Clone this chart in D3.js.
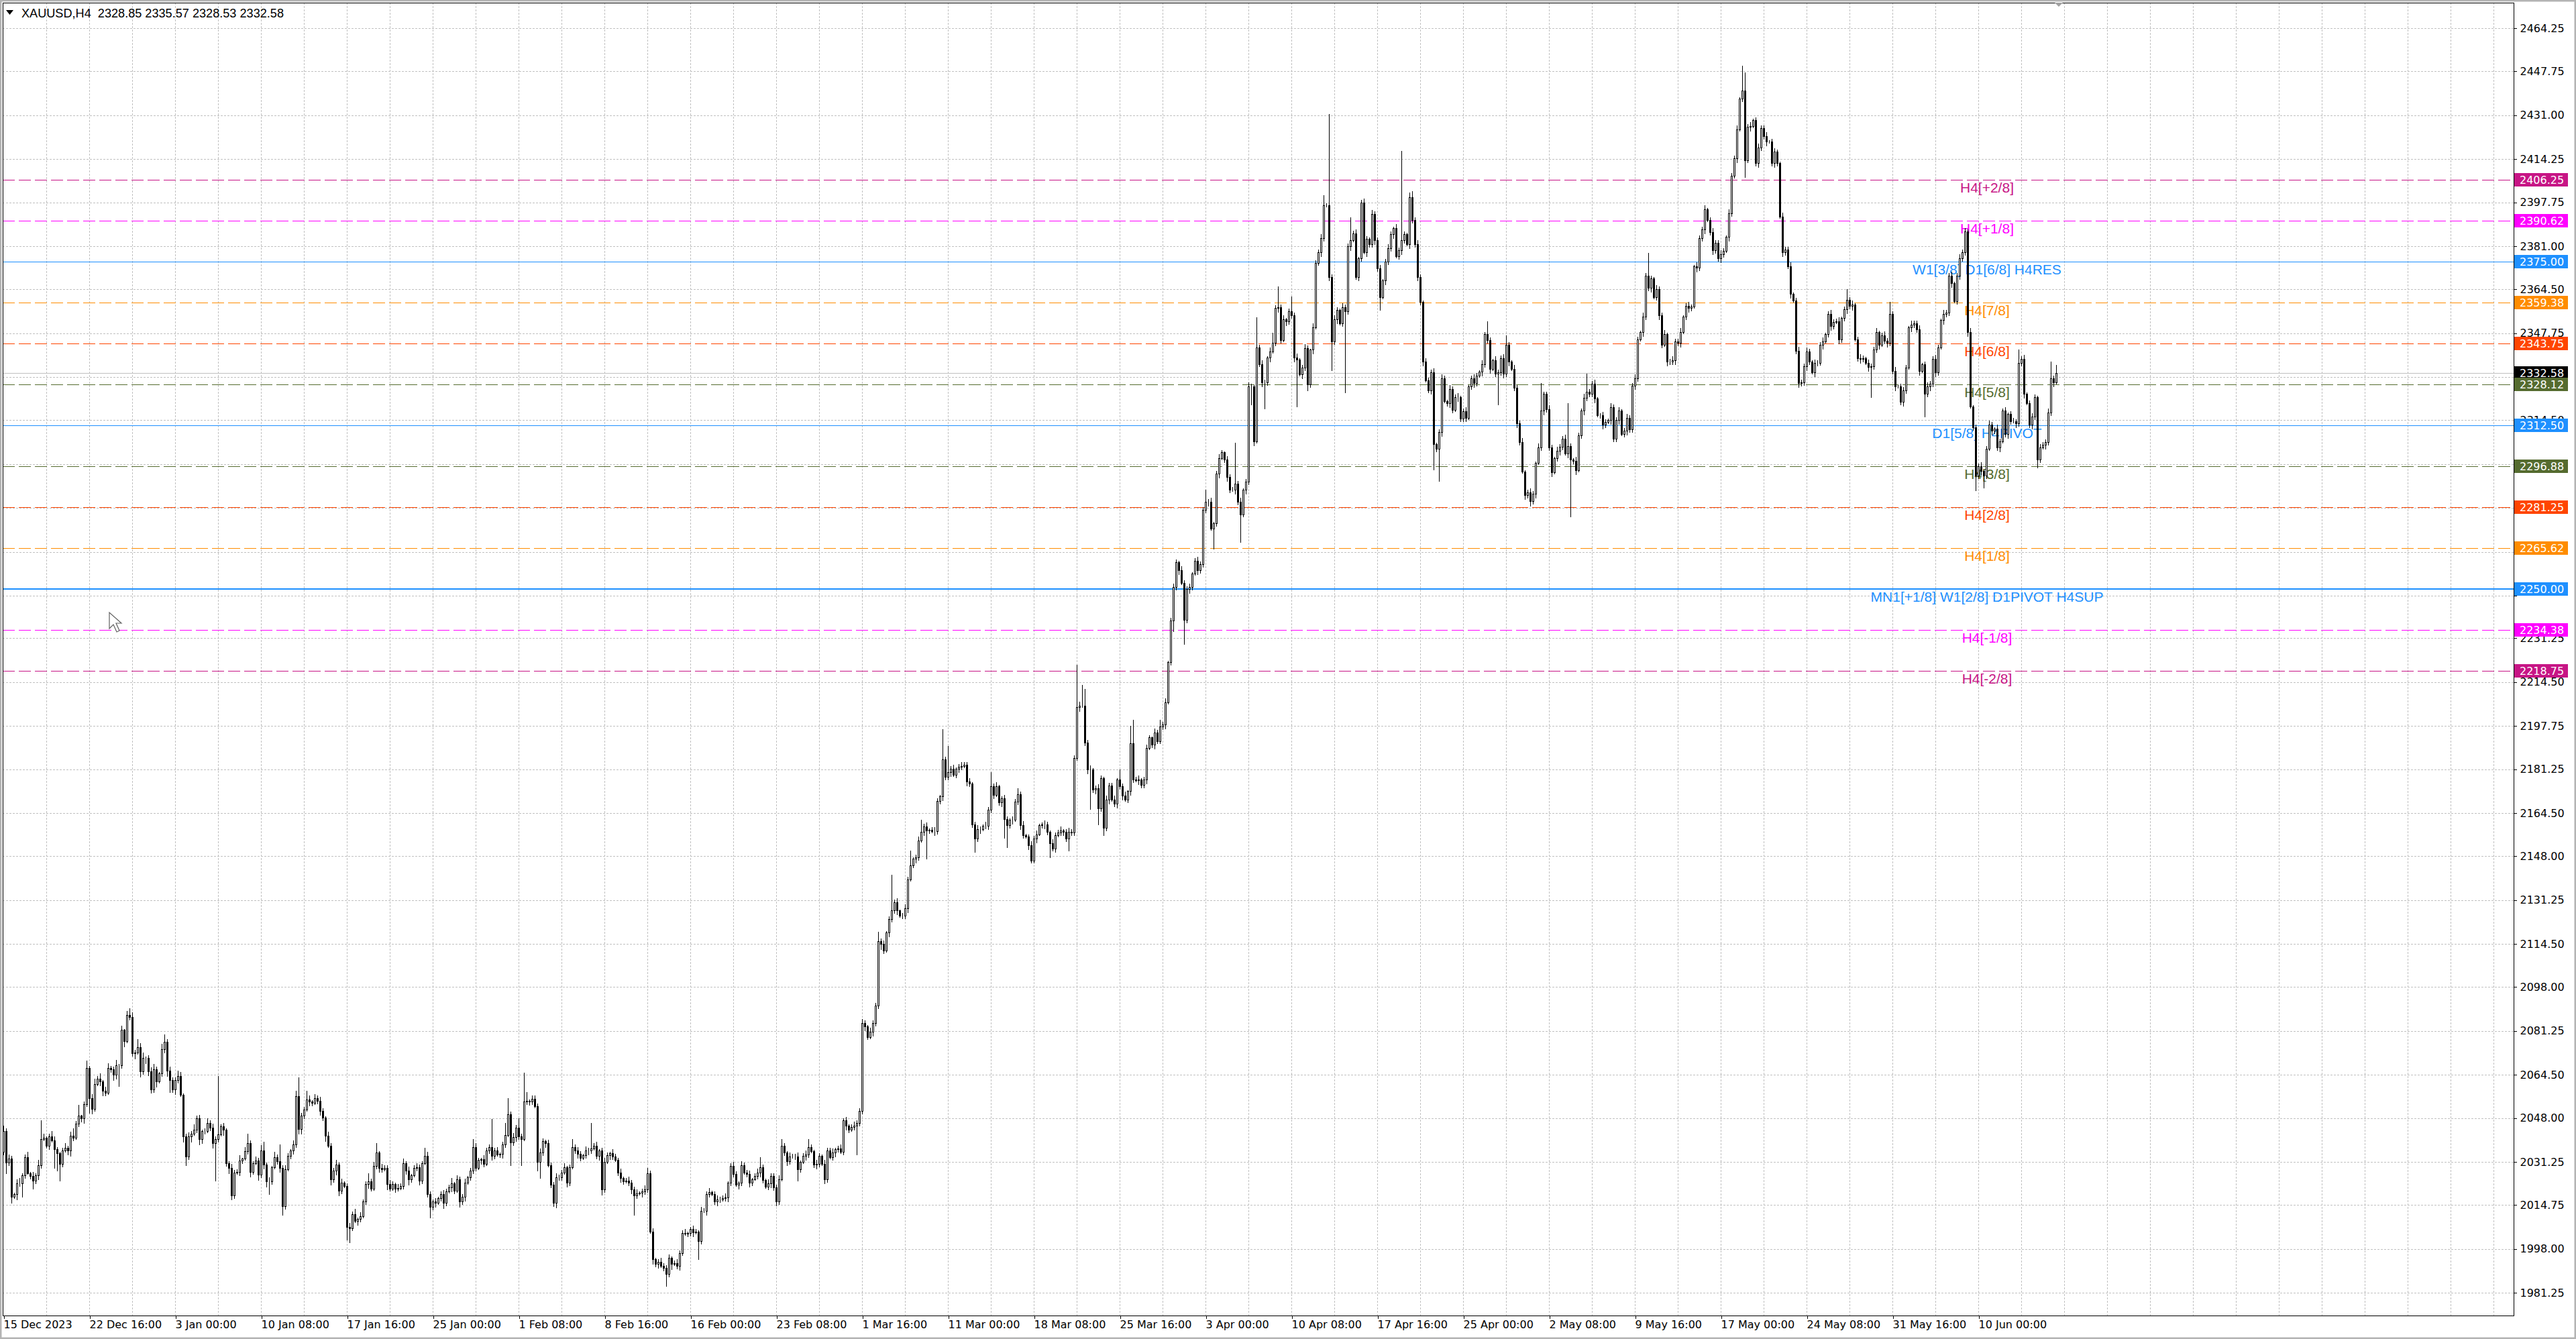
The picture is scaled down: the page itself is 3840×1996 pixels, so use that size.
<!DOCTYPE html>
<html>
<head>
<meta charset="utf-8">
<title>XAUUSD,H4</title>
<style>
html, body { margin: 0; padding: 0; background: #ffffff; }
svg { display: block; }
.axis text { font-family: "DejaVu Sans", Verdana, sans-serif; font-size: 16px; fill: #000; }
.axis path, .axis line { stroke: #000; shape-rendering: crispEdges; }
.grid line { stroke: #c0c0c0; stroke-dasharray: 3,2; shape-rendering: crispEdges; }
.level-text { font-family: "Liberation Sans", Arial, sans-serif; font-size: 21px; text-anchor: middle; }
.price-box text { font-family: "DejaVu Sans", Verdana, sans-serif; font-size: 16px; fill: #fff; }
</style>
</head>
<body>
<svg id="chart" width="3840" height="1996"></svg>
<script src="https://cdn.jsdelivr.net/npm/d3@7/dist/d3.min.js"></script>
<script>
// ---------- data ----------
const symbolTitle = 'XAUUSD,H4';
const lastOHLC = [2328.85, 2335.57, 2328.53, 2332.58];
const firstOpen = 2035;

// close of every H4 bar, 15 Dec 2023 .. 14 Jun 2024 (open = previous close)
const closes = [
  2043,2031,2032.5,2018,2019,2023,2023,2026,2033,2027,2025.8,2024,2026,2030,2040,2040.5,
  2037.5,2041,2039.5,2036,2034.5,2030.5,2035.5,2036.5,2035.5,2041.3,2040.5,2045.8,2048.8,2048,2053.4,2067,
  2055.5,2051.6,2061,2063,2062,2058.5,2057.6,2067,2066.6,2064.5,2068.2,2068.2,2081.7,2077.4,2087.3,2086.5,
  2072.7,2073,2075,2065.8,2071,2071,2065.8,2059,2066.6,2062,2065,2074.4,2077,2066,2062.4,2059,
  2062.4,2064,2056.8,2040.9,2033.2,2040.9,2041.9,2043.5,2047.8,2040,2043,2043,2046,2044.3,2038.5,2040,
  2041.7,2044.7,2043.5,2030.6,2028.9,2018.5,2027.1,2027.5,2031.8,2032.4,2035.3,2038.5,2027.5,2030.6,2031.8,2026.3,
  2035.7,2030.1,2023.7,2023.8,2029.3,2033.1,2031.4,2028.9,2014.2,2028.4,2033.6,2035.7,2037.9,2056.3,2043.9,2049,
  2051.2,2055,2054.2,2053.8,2055.5,2054.6,2050.8,2048.2,2041.3,2037.4,2024.5,2027.9,2030.1,2020.3,2023.3,2022,
  2006.5,2006,2011.2,2008.7,2009.5,2010.4,2016,2022.8,2023.8,2021.1,2029.7,2034.9,2028.9,2028.4,2029,2022.8,
  2021.1,2022.8,2021.1,2021.3,2022,2030.6,2028,2024.5,2026,2028.9,2029.3,2024.1,2030.6,2033.6,2019,2014,
  2016,2015.5,2017.5,2019,2015.5,2020,2021.5,2023,2020.3,2024.6,2016,2018,2023.3,2025.4,2028,2037,
  2028.9,2031.9,2032.3,2030.5,2035.5,2037,2033.6,2035.5,2034,2034.2,2037.9,2041.5,2049.5,2038.6,2040.8,2044.3,
  2041,2039.9,2054.4,2054.5,2054.4,2055.2,2052.6,2031.3,2034.9,2039.2,2038.3,2030,2022.6,2015.7,2025.4,2025.4,
  2027.1,2029.3,2023.3,2029.3,2037,2035.5,2034.3,2032.8,2033.8,2035.7,2035.5,2036.4,2037.5,2033.6,2035.5,2020.7,
  2031.3,2033.8,2034.5,2033.2,2031.9,2027.1,2025,2023.7,2024,2023.3,2020.7,2018.5,2019.3,2019.5,2020,2020.7,
  2026.8,2004.5,1994.2,1992.3,1993,1991.5,1990.8,1988.5,1994.5,1992.3,1992.5,1991.5,1996.5,2004.1,2003.7,2004.1,
  2005.5,2004.4,2004.6,2001.1,2012.5,2012.6,2019,2019.7,2019,2016,2016.8,2017,2017.5,2017.7,2023.3,2029.7,
  2026.6,2022.6,2023.3,2030,2027.1,2026.5,2023.3,2024.7,2025.8,2027.1,2029.3,2024.4,2021.7,2023,2025.8,2021.5,
  2016,2024.6,2037.5,2034.9,2031.5,2033.2,2033.4,2033.2,2028.5,2031.3,2033.6,2034,2036.9,2035.3,2030.2,2030.5,
  2033.5,2030.5,2024.6,2035.5,2033,2034.9,2036,2036.4,2035,2047,2045,2043.5,2044.5,2045,2046,2050.8,
  2084.2,2083,2079,2081,2084.2,2090.9,2115.6,2114.4,2112,2118.8,2124,2127.2,2130.4,2127.2,2125.3,2125.3,
  2128,2139.2,2144.6,2147,2147.5,2154,2157.4,2159.3,2157.8,2158,2157.5,2157.6,2169,2170.8,2185,2178.2,
  2180,2181.5,2179,2181.5,2182.2,2182.5,2183,2176.4,2175.8,2160.2,2154.8,2158.4,2158.4,2159.7,2159.7,2165.7,
  2174.7,2171.5,2174.7,2168.6,2170,2162.2,2159.9,2161.8,2161.8,2168.9,2171.7,2159.9,2156.1,2155.4,2152.2,2146.4,
  2154.8,2156.4,2159.9,2160,2160.2,2157.4,2152.9,2151,2156.1,2157,2157.8,2157.4,2154.8,2157.4,2157,2185.6,
  2204.9,2205.5,2205.5,2191.4,2181.1,2181.1,2173.4,2174,2166.3,2177.9,2158.9,2169.6,2175.1,2169.6,2168,2177.3,
  2174.7,2171.2,2169.6,2172.8,2191,2177.3,2176.9,2177.3,2175.3,2177.3,2189.2,2193.3,2190.5,2195.2,2192,2197.4,
  2198.2,2206.8,2222.2,2238,2250.7,2260.4,2257.3,2252.4,2238.3,2250,2250.7,2256,2260.8,2257.3,2259.5,2280.3,
  2283.3,2283.3,2273.2,2275.2,2294.2,2300.1,2302.2,2299.4,2292.8,2288,2288,2290.2,2283.3,2278.6,2288,2291.1,
  2327.5,2327.5,2306.5,2342.2,2336,2329,2329,2338.4,2340.7,2344.1,2357.4,2357.7,2345,2353.1,2352.3,2356.2,
  2354.6,2338.4,2337.6,2332.1,2334.5,2342.1,2328.3,2341.4,2350,2374.7,2378.6,2384,2396.5,2396.5,2369.3,2344.5,
  2353,2356.7,2351.5,2357.7,2356,2381,2383.3,2385.9,2369.3,2376.3,2397.7,2378.6,2383.8,2381.8,2393.4,2383.3,
  2372.4,2361.6,2368,2375.1,2380.2,2385.6,2388,2377.2,2379.4,2383.3,2385.6,2381.8,2399.6,2391,2381.8,2369.3,
  2359.6,2336.8,2329.8,2326,2332.8,2305.3,2303.5,2310,2330.6,2321.7,2321.1,2326.4,2318.5,2323.3,2323.3,2315.1,
  2318,2315.5,2327.4,2330.6,2328.6,2331.6,2333,2335.8,2347.3,2345.2,2334,2337.5,2332.2,2332.8,2338.1,2332.2,
  2343.4,2336.9,2334,2327,2313.4,2306.2,2294.9,2285.8,2287,2283.5,2286.4,2298.2,2304.1,2318.2,2324.5,2318.7,
  2304.1,2294.7,2300,2302.9,2304.4,2307.5,2301.7,2304.6,2299.6,2298.9,2295.4,2308.8,2318.1,2323.1,2325.4,2324.6,
  2328.5,2322.8,2316.3,2316.3,2312.8,2313.9,2314.6,2319.5,2307.5,2314.6,2318.1,2309.3,2310.5,2315.3,2311,2327.8,
  2330.6,2345.4,2348.1,2354,2369.8,2365.1,2368.6,2361.5,2364.5,2354.5,2343.2,2347.5,2336.9,2337,2337.5,2344.5,
  2344,2348.1,2354,2358.2,2357.3,2357.8,2373.4,2372.8,2384,2387.4,2395.1,2391,2386.3,2379.5,2382.2,2376.3,
  2378,2379.2,2384.5,2393.6,2408,2414.5,2425.6,2437.4,2440.3,2413.9,2426.5,2426.8,2429.1,2412.7,2418.6,2426.2,
  2423,2421,2420.9,2412.7,2417,2412.7,2392.2,2378.6,2379.8,2373.4,2362.8,2360.3,2341,2328.7,2328.9,2335.2,
  2340.7,2337,2332.8,2336.3,2336.5,2343.4,2344.6,2347.5,2355.1,2350.4,2352,2352.2,2345.4,2353.6,2356.9,2360.5,
  2358.1,2358.7,2345.4,2338.1,2338,2338.1,2336.3,2334.9,2335.1,2341.6,2348.1,2343.4,2346.9,2344.8,2344,2355.1,
  2333.4,2327.5,2327.5,2321.6,2325.8,2334.6,2349.9,2351,2351.5,2349.3,2333.4,2335.8,2324.6,2327.5,2328.5,2337.9,
  2332.8,2342.2,2352.8,2355.1,2355.7,2369.8,2366.9,2359.9,2369.8,2376.3,2378.6,2386.5,2348.1,2319.8,2311.7,2293.4,
  2297,2295.2,2293.4,2303.7,2312.8,2310.5,2311.3,2304,2306.4,2318.1,2309.3,2317,2314,2314,2313.4,2336.3,
  2337.9,2324.6,2321.1,2312.8,2315.8,2323.4,2299.6,2304,2305.2,2306.1,2317.5,2330.5,2328.85,2332.58
];

// shadow above the body of each bar (USD)
const upperWick = [
  2,1,1.5,1,0.5,1.5,2,1,1,2,0.5,1.5,1,2,7,1.5,
  0.5,1,2,1.5,1,0.5,1,2,1,1.5,2.7,1,4.2,0.5,1,3,
  1,1.5,2,1,2,0.5,1.5,2,1,1,2,0.5,1.5,0.3,1.7,2.7,
  2,1,3,1.5,2,0.5,1,1.5,2,1,0.5,2,3,1,1.5,1,
  1,2,1.5,0.5,1,1.5,1,2,1,1.5,0.5,1,2,1,1.5,1,
  22.3,1,1.5,0.5,1,1.5,1,1,2,0.5,1.5,3.5,1,1,1.5,1,
  2,3.3,1,1.5,0.5,2,1,6.6,1,1.5,1,0.5,1.5,2,7.2,1,
  1,3.5,1.5,0.5,1.5,1,1.5,1,0.5,1.5,1,1,2,1,1.5,0.5,
  1,1.5,1,2,0.5,1.5,1,1,3.2,1,1.5,3.6,0.5,1.5,1,1,
  1.5,1,0.5,1.5,1,2,1,1.5,0.5,1,1.5,1,1,2.9,1.5,1,
  1,1.5,0.5,1,1.5,1,1,2,0.5,1.5,1,1,1.5,0.5,1,3,
  1.5,1,0.5,1.5,1,1,10.6,1,1.5,0.5,1,4.5,6,1,1.5,1,
  3.7,1,11,3.5,0.5,1.5,1.3,1,1.5,1,0.5,1.5,1,1,1.5,1,
  1,1.5,0.5,1,3,1,1.5,1,0.5,1.5,1,9.6,1,1.5,0.5,1,
  1.5,1,0.5,1.5,1,1,1.5,0.5,1,1.5,1,1,1.5,0.5,1,1.5,
  2.2,1,1.5,0.5,1,1.5,1,1,1.5,0.5,1,1.5,1,1,1.5,0.5,
  1,1.5,1,0.5,1.5,1,1,1.5,0.5,1,1.5,1,1,1.5,0.5,1,
  1.5,1,0.5,1.5,1,1,1.5,0.5,1,1.5,3.7,1,0.5,1.5,1,1,
  1,1.5,2.5,1,0.5,1.5,1,1,1.5,0.5,1,1.5,3.1,1,0.5,1.5,
  1,0.5,1.5,1,1,1.5,0.5,1,1.5,1,1.5,0.5,1,1.5,1,1,
  1.5,1,0.5,1.5,1,1,3.4,1,1.5,0.5,1,13.8,1,1.5,0.5,1,
  1.5,1,5.4,0.5,1,1.5,4.6,1,1.5,0.5,1,1.5,1,0.5,11.6,1,
  10,1,1.5,0.5,1,1.5,1,1,1.5,0.5,1,1.5,1,0.5,1.5,1,
  5.3,1,1.5,0.5,1,1.5,1,0.5,1.5,1,2.3,1,1.5,0.5,1,1.5,
  1,1.5,0.5,1,1.5,1,0.5,1.5,1,1,1.5,0.5,1,1.5,1,1,
  16.1,1.5,8,6.5,1,1.5,0.5,1,1.5,1,0.5,1.5,1,1,1.5,0.5,
  3.7,1,1.5,0.5,6.8,9,1,1.5,0.5,1,1.5,1,0.5,1.5,1,2.6,
  1,1.5,0.5,1,1.5,1,0.5,1.5,1,1,1.5,0.5,1,1.5,1,1,
  4.6,1,1.5,0.5,1,1.5,1,0.5,1.5,1,1,15.6,1,1.5,0.5,1,
  1.5,1,0.5,11.6,1,1.5,1,0.5,1.5,3.9,1,7.8,1,1.5,0.5,1,
  5.5,1,1.5,0.5,1,1.5,1,0.5,1.5,1,1,1.5,3.9,1,34.9,1,
  1.5,1,0.5,1.5,1,1,8.8,1,1.5,0.5,1,1.5,1,0.5,1.5,1,
  1,1.5,0.5,1,1.5,1,0.5,1.5,1,34.1,1,0.5,2,2.3,1,1.5,
  1,0.5,1.5,1,1,1.5,0.5,1,1.5,1,0.5,1.5,1,1,1.5,0.5,
  1,1.5,0.5,1,1.5,1,0.5,1.5,1,5,1,0.5,1.5,1,1,1.5,
  3.5,1,0.5,1.5,1,1,1.5,0.5,1,1.5,1,0.5,1.5,10.5,1,1,
  1.5,1,0.5,1.5,1,1,1.5,16.5,1,0.5,1.5,1,1,1.5,6.8,1,
  1,1.5,0.5,1,1.5,1,0.5,1.5,1,1,1.5,0.5,1,1.5,1,1,
  1.5,1,0.5,1.5,1,8.5,1,0.5,1.5,1,1,1.5,0.5,1,1.5,1,
  1,1.5,0.5,1,1.5,1,0.5,1.5,1,1,1.5,0.5,1,1.5,1,1,
  1.5,1,0.5,1.5,1,1,1.5,0.5,9.7,7.1,1,1.5,0.5,1,1.5,1,
  1,1.5,0.5,1,1.5,1,0.5,1.5,1,1,1.5,0.5,1,1.5,1,1,
  1.5,1,0.5,1.5,1,1,1.5,0.5,1,1.5,1,1,1.5,0.5,1,4,
  1,1.5,0.5,1,1.5,1,0.5,1.5,1,1,1.5,0.5,1,1.5,1,4.7,
  1,1.5,0.5,1,1.5,1,0.5,1.5,1,1,1.5,0.5,1,1.5,1,1,
  1.5,1,0.5,1.5,1,1,1.5,0.5,1,1.5,1,1.5,1,1.5,0.5,1,
  1,1.5,0.5,1,1.5,1,0.5,1.5,1,1,1.5,0.5,1,1.5,1,5.3,
  1,1.5,0.5,1,1.5,1,0.5,1.5,1,1,1.5,6.4,1,2.99
];

// shadow below the body of each bar (USD)
const lowerWick = [
  1,4,1,2.5,0.5,2,1,5,1,0.5,1,3,1,1.5,1,0.5,
  1,1.5,0.5,7,6.5,6.5,1,0.5,1.5,2,1,0.5,1,1.5,2,1,
  5.5,2,1,0.5,1.5,2,1,0.5,1,2,1.5,8,1,2,0.5,1,
  1,2,0.5,2,1,2,1.5,1.4,1,2,0.5,1,1.5,2,4.4,1,
  2,1,0.5,2,3.2,1,2,0.5,1,2,1.5,1,0.5,1,2,14.5,
  1,0.5,2,1,2,1.5,1,0.5,1.5,1,0.5,1,2,1,0.5,2,
  1,1.5,2,4.7,1,0.5,1,1.5,3.2,1,0.5,1,1.5,1,2,2,
  1,0.5,1.5,1,0.5,1,1.5,1,2,0.5,2,1,1.5,2,1,0.5,
  5,5.5,1,0.5,1.5,1,0.5,1,1.5,1,0.5,1,1.5,1,0.5,2,
  1,0.5,1.5,1,0.5,1,1.5,2,1,0.5,1,1.5,1,0.5,1,4,
  1,1.5,0.5,1,2,1,0.5,1.5,1,0.5,2,1,1.5,0.5,1,1,
  1,0.5,1.5,1,0.5,1,1.5,1,0.5,1,1.5,1,0.5,8.6,1,1.5,
  1,9.9,0.5,1,1.5,1,0.5,3.3,6.3,1,1.5,0.5,1,1.5,2,1,
  1,0.5,1.5,1,0.5,1,1.5,1,0.5,1,1.5,1,0.5,1,1.5,2,
  1,0.5,1.5,1,0.5,1,1.5,1,0.5,1,1.5,7.5,1,0.5,1.5,1,
  1,0.5,2,1,1.5,0.5,1,4.7,1,2,0.5,1,1.5,1,0.5,1,
  1,1.5,0.5,7.1,1,0.5,1.5,1,0.5,1,1.5,1,0.5,1,1.5,1,
  1,0.5,1.5,1,0.5,1,1.5,1,0.5,1,1.5,1,0.5,1,1.5,1,
  1.5,1,0.5,1,1.5,1,0.5,1,4.5,1,0.5,1.5,1,0.5,1,1.5,
  1,0.5,1.5,1,0.5,1,1.5,1,0.5,1,1.5,1,0.5,1,11,1,
  1,1.5,1,0.5,1.5,1,1,2,1,0.5,1.5,1,1,1.5,0.5,1,
  1,1.5,0.5,1,1.5,1,0.5,1.5,10.8,1,0.5,1.5,1,1,1.5,1,
  1,1.5,0.5,1,1.5,1,0.5,1.5,1,1,5.2,1,1.5,0.5,1,1.5,
  1,1.5,0.5,1,1.5,7.2,8.4,1,1.5,0.5,1,1.5,1,0.5,1.5,1,
  1,1.5,0.5,1,1.5,1,5.4,1,1.5,0.5,1,1.5,1,4.8,1,1,
  1,1.5,0.5,1,1.5,15.1,1,1.5,6.3,1,2.9,1,1.5,0.5,1,1.5,
  1,1.5,0.5,1,1.5,1,0.5,1.5,1,1,1.5,0.5,1,1.5,1,1,
  1,1.5,0.5,1,4,1,1.5,0.5,9.3,1,1.5,1,0.5,1.5,1,1,
  1,1.5,0.5,7.7,1,1.5,0.5,1,1.5,1,0.5,1.5,1,10.5,1,1.5,
  1,7,1.5,0.5,1,1.5,10,1,1.5,0.5,1,1.5,1,0.5,1.5,1,
  1,1.5,17.9,0.5,1.5,1,2.3,1,1.5,0.5,1,1.5,1,0.5,1.5,10.8,
  1,1.5,0.5,1,31,1,1.5,0.5,1,1.5,1,0.5,1.5,1,1,1.5,
  1,5,0.5,1.5,1,1,1.5,0.5,1,1.5,1,0.5,1.5,1,1,1.5,
  1,1.5,0.5,1,1.5,9.6,1,12.1,1.5,0.5,1,1.5,1,0.5,1.5,1,
  1,1.5,0.5,1,1.5,1,0.5,1.5,1,1,1.5,0.5,1,11.7,1,1.5,
  1,1.5,0.5,1,1.5,1,0.5,1.5,1,1.8,1,1.5,0.5,1,1.5,1,
  1,1.5,0.5,1,1.5,1,0.5,1.5,22,1,1.5,0.5,1,1.5,1,1,
  1,1.5,0.5,1,1.5,1,0.5,1.5,1,1,1.5,0.5,1,1.5,1,1,
  1.5,1,0.5,1.5,1,1,1.5,0.5,1,1.5,1,0.5,1.5,1,1,1.5,
  1,1.5,0.5,1,1.5,1,0.5,1.5,1,1,1.5,0.5,1,1.5,1,1,
  1.5,1,0.5,1.5,1,1,1.5,0.5,1,6.5,1,1.5,0.5,1,1.5,1,
  1,1.5,0.5,1,1.5,1,0.5,1.5,1,1,1.5,0.5,1,1.5,1,1,
  1.5,1,0.5,1.5,1,1,1.5,0.5,1,1.5,1,0.5,1.5,1,1,1.5,
  1,1.5,0.5,1,1.5,1,0.5,1.5,11.5,1,1,1.5,0.5,1,1.5,1,
  1,1.5,0.5,1,1.5,1,0.5,1.5,1,1,1.5,0.5,8.8,1,1.5,1,
  1.5,1,0.5,1.5,1,1,1.5,0.5,1,1.5,1,1,1.5,0.5,1,5.8,
  1,1.5,4.6,1,0.5,1.5,1,1,1.5,0.5,1,1.5,1,0.5,1.5,1,
  1,1.5,0.5,1,1.5,1,3.2,1,0.5,1.5,1,1,1.5,0.32
];

const priceTicks = [
  2464.25, 2447.75, 2431.00, 2414.25, 2397.75, 2381.00, 2364.50, 2347.75, 2331.00, 2314.50,
  2297.75, 2281.00, 2264.25, 2247.50, 2231.25, 2214.50, 2197.75, 2181.25, 2164.50, 2148.00,
  2131.25, 2114.50, 2098.00, 2081.25, 2064.50, 2048.00, 2031.25, 2014.75, 1998.00, 1981.25
];
// scale values whose labels sit completely under a price box
const coveredTicks = [2331.00, 2281.00, 2264.25, 2247.50];

// one time label every 32 bars
const timeLabels = [
  '15 Dec 2023', '22 Dec 16:00', '3 Jan 00:00', '10 Jan 08:00', '17 Jan 16:00', '25 Jan 00:00',
  '1 Feb 08:00', '8 Feb 16:00', '16 Feb 00:00', '23 Feb 08:00', '1 Mar 16:00', '11 Mar 00:00',
  '18 Mar 08:00', '25 Mar 16:00', '3 Apr 00:00', '10 Apr 08:00', '17 Apr 16:00', '25 Apr 00:00',
  '2 May 08:00', '9 May 16:00', '17 May 00:00', '24 May 08:00', '31 May 16:00', '10 Jun 00:00'
];

// Murrey-math style levels
const levelPrices = [2406.25, 2390.62, 2375.00, 2359.38, 2343.75, 2328.12, 2312.50,
                     2296.88, 2281.25, 2265.62, 2250.00, 2234.38, 2218.75];
const levelNames = ['H4[+2/8]', 'H4[+1/8]', 'W1[3/8] D1[6/8] H4RES', 'H4[7/8]', 'H4[6/8]', 'H4[5/8]',
                    'D1[5/8] H4PIVOT', 'H4[3/8]', 'H4[2/8]', 'H4[1/8]',
                    'MN1[+1/8] W1[2/8] D1PIVOT H4SUP', 'H4[-1/8]', 'H4[-2/8]'];
const bidPrice = 2332.58;

// ---------- layout & style ----------
const plot = {left: 4, top: 4, right: 3747, bottom: 1961};
const levelColors = ['#C71585', '#FF00FF', '#1E90FF', '#FF8C00', '#FF4500', '#556B2F', '#1E90FF',
                     '#556B2F', '#FF4500', '#FF8C00', '#1E90FF', '#FF00FF', '#C71585'];
const levelWidths = [1, 1, 1, 1, 1, 1, 1, 1, 1, 1, 2, 1, 1];
const levelDashed = [true, true, false, true, true, true, false, true, true, true, false, true, true];
const levelLabelX = 2962;
const fmt = d3.format('.2f');

const svg = d3.select('#chart');

const x = d3.scaleLinear().domain([0, 935.5]).range([5, plot.right]);
const y = d3.scaleLinear().domain([1981.25, 2464.25]).range([1927.1, 42]);
const px = v => Math.round(v) + 0.5;

const bars = closes.map((c, i) => {
  const o = i ? closes[i - 1] : firstOpen;
  return {i, o, c, h: Math.max(o, c) + upperWick[i], l: Math.min(o, c) - lowerWick[i]};
});

svg.append('defs').append('clipPath').attr('id', 'plotclip')
  .append('rect')
  .attr('x', plot.left).attr('y', plot.top)
  .attr('width', plot.right - plot.left).attr('height', plot.bottom - plot.top);

// window frame
svg.append('rect')
  .attr('x', 1).attr('y', 1).attr('width', 3838).attr('height', 1994)
  .attr('fill', 'none').attr('stroke', '#b4b4b4').attr('stroke-width', 3);

// grid
const grid = svg.append('g').attr('class', 'grid');
grid.selectAll('line.h').data(priceTicks).join('line')
  .attr('class', 'h')
  .attr('x1', plot.left).attr('x2', plot.right)
  .attr('y1', d => px(y(d))).attr('y2', d => px(y(d)));
grid.selectAll('line.v').data(d3.range(16, 936, 16)).join('line')
  .attr('class', 'v')
  .attr('x1', d => px(x(d))).attr('x2', d => px(x(d)))
  .attr('y1', plot.top).attr('y2', plot.bottom);

const levels = levelPrices.map((p, k) => ({p, name: levelNames[k], color: levelColors[k],
  w: levelWidths[k], dashed: levelDashed[k]}));

// level lines
const lv = svg.append('g').attr('clip-path', 'url(#plotclip)');
lv.selectAll('line').data(levels).join('line')
  .attr('x1', plot.left).attr('x2', plot.right)
  .attr('y1', d => d.w === 2 ? Math.round(y(d.p)) : px(y(d.p)))
  .attr('y2', d => d.w === 2 ? Math.round(y(d.p)) : px(y(d.p)))
  .attr('stroke', d => d.color)
  .attr('stroke-width', d => d.w)
  .attr('stroke-dasharray', d => d.dashed ? '18,6' : null)
  .style('shape-rendering', 'crispEdges');

// bid line
lv.append('line')
  .attr('x1', plot.left).attr('x2', plot.right)
  .attr('y1', px(y(bidPrice))).attr('y2', px(y(bidPrice)))
  .attr('stroke', '#c0c0c0').style('shape-rendering', 'crispEdges');

// level captions
svg.append('g').selectAll('text').data(levels).join('text')
  .attr('class', 'level-text')
  .attr('x', levelLabelX)
  .attr('y', d => y(d.p) + 19)
  .attr('fill', d => d.color)
  .text(d => d.name);

// candles
const cg = svg.append('g').attr('clip-path', 'url(#plotclip)');
cg.selectAll('line.wick').data(bars).join('line')
  .attr('class', 'wick')
  .attr('x1', d => px(x(d.i))).attr('x2', d => px(x(d.i)))
  .attr('y1', d => Math.round(y(d.h))).attr('y2', d => Math.round(y(d.l)) + 1)
  .attr('stroke', '#000').style('shape-rendering', 'crispEdges');
cg.selectAll('rect.body').data(bars).join('rect')
  .attr('class', 'body')
  .attr('x', d => Math.round(x(d.i)) - 0.5)
  .attr('width', 2)
  .attr('y', d => px(y(Math.max(d.o, d.c))))
  .attr('height', d => Math.max(0, Math.round(y(Math.min(d.o, d.c))) - Math.round(y(Math.max(d.o, d.c)))))
  .attr('fill', d => d.c >= d.o ? '#fff' : '#000')
  .attr('stroke', '#000')
  .style('shape-rendering', 'crispEdges');

// plot frame (top/left/bottom)
svg.append('path')
  .attr('d', `M${plot.right},${plot.top + 0.5}H${plot.left + 0.5}V${plot.bottom + 0.5}H${plot.right}`)
  .attr('fill', 'none').attr('stroke', '#000').style('shape-rendering', 'crispEdges');

// price axis
const yAxis = d3.axisRight(y).tickValues(priceTicks)
  .tickFormat(d => coveredTicks.includes(d) ? '' : fmt(d))
  .tickSize(4).tickPadding(5);
const ya = svg.append('g').attr('class', 'axis')
  .attr('transform', `translate(${plot.right + 0.5},0)`)
  .call(yAxis);
ya.select('.domain').remove();
ya.append('line').attr('x1', 0).attr('x2', 0).attr('y1', plot.top).attr('y2', plot.bottom + 1);

// time axis
const labelBars = timeLabels.map((_, k) => k * 32);
const xAxis = d3.axisBottom(x).tickValues(labelBars).tickFormat((d, k) => timeLabels[k])
  .tickSize(4).tickPadding(3);
const xa = svg.append('g').attr('class', 'axis')
  .attr('transform', `translate(0,${plot.bottom + 0.5})`)
  .call(xAxis);
xa.select('.domain').remove();
xa.selectAll('.tick line').attr('transform', 'translate(0.5,0)');
xa.selectAll('text').attr('text-anchor', 'start').attr('x', 0);

// price boxes on the right scale
const boxes = levels.map(d => ({p: d.p, color: d.color}));
boxes.splice(5, 0, {p: bidPrice, color: '#000'});
const pb = svg.append('g').attr('class', 'price-box');
const box = pb.selectAll('g').data(boxes).join('g')
  .attr('transform', d => `translate(${plot.right + 1},${Math.round(y(d.p)) - 10})`);
box.append('rect').attr('width', 80).attr('height', 20).attr('fill', d => d.color);
box.append('text').attr('x', 8).attr('y', 10).attr('dy', '0.36em').text(d => fmt(d.p));

// title
const title = svg.append('g');
title.append('path').attr('d', 'M9,15H20L14.5,22Z').attr('fill', '#000');
title.append('text')
  .attr('x', 32).attr('y', 26)
  .attr('font-family', '"Liberation Sans", Arial, sans-serif')
  .attr('font-size', 18)
  .attr('textLength', 391).attr('lengthAdjust', 'spacingAndGlyphs')
  .style('white-space', 'pre')
  .text(`${symbolTitle}  ${lastOHLC.map(fmt).join(' ')}`);

// chart shift marker and mouse cursor
svg.append('path').attr('d', 'M3063,4H3075L3069,10Z').attr('fill', '#a0a0a0');
svg.append('path')
  .attr('d', 'M163,913V937L169,931L174,942L178,940L173,929L181,929Z')
  .attr('fill', '#fff').attr('stroke', '#606060').attr('stroke-width', 1.2);
</script>
</body>
</html>
